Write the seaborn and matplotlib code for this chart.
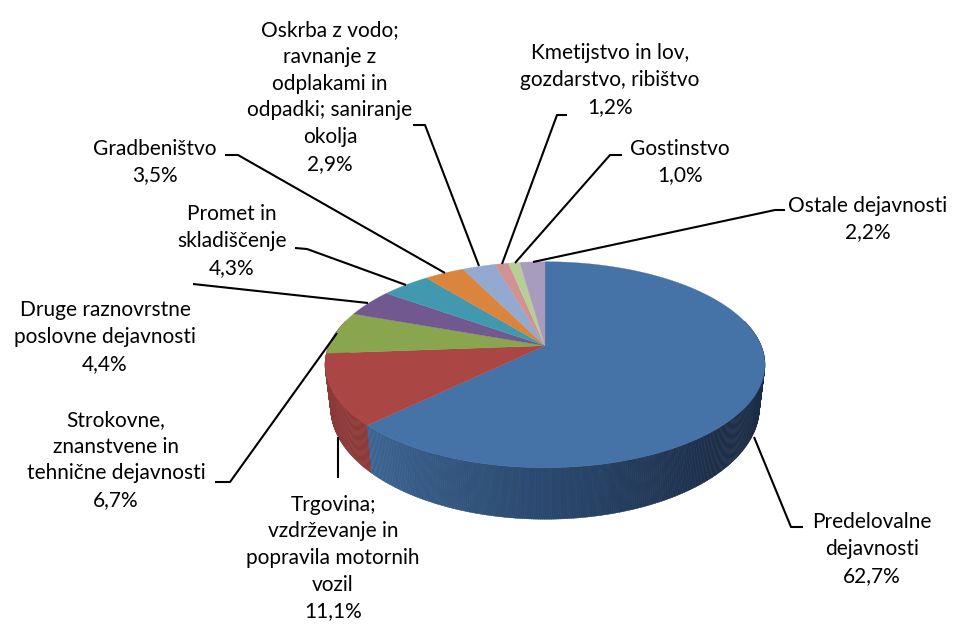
import numpy as np
import pandas as pd
import seaborn as sns
import matplotlib.pyplot as plt

labels = ["Predelovalne\ndejavnosti", "Trgovina;\nvzdrževanje in\npopravila motornih\nvozil",
          "Strokovne,\nznanstvene in\ntehnične dejavnosti", "Druge raznovrstne\nposlovne dejavnosti",
          "Promet in\nskladiščenje", "Gradbeništvo",
          "Oskrba z vodo;\nravnanje z\nodplakami in\nodpadki; saniranje\nokolja",
          "Kmetijstvo in lov,\ngozdarstvo, ribištvo", "Gostinstvo", "Ostale dejavnosti"]
shares = [62.7, 11.1, 6.7, 4.4, 4.3, 3.5, 2.9, 1.2, 1.0, 2.2]
colors = ["#4572A7", "#AA4643", "#89A54E", "#71588F", "#4198AF",
          "#DB843D", "#93A9CF", "#D19392", "#B9CD96", "#A99BBD"]

# label centres in pixels
label_x = [872, 333, 116, 105, 232, 155, 330, 610, 680, 868]
label_y = [549, 558, 460, 337, 241, 162, 97, 80, 162, 219]

# leader lines in pixels
leaders = [
    [(754, 437), (791, 527), (803, 527)],
    [(338, 437), (338, 478)],
    [(337, 333), (230, 482), (215, 482)],
    [(368, 303), (193, 284)],
    [(406, 285), (307, 249), (295, 248)],
    [(445, 273), (238, 155), (225, 155)],
    [(479, 266), (425, 125), (413, 125)],
    [(502, 264), (557, 115), (567, 115)],
    [(515, 263), (610, 155), (622, 155)],
    [(533, 262), (775, 210), (785, 210)],
]

# pie apex and perspective of the top face
cx, cy = 545, 345.7
A, B, K = 216.2, 99.5, 0.1845


def top_rim(theta):
    # theta is clockwise from 12 o'clock, degrees
    u = np.sin(np.radians(theta))
    v = np.cos(np.radians(theta))
    w = 1 + K * v
    return A * u / w, -B * v / w


def low_rim(theta):
    x, y = top_rim(theta)
    return 0.975 * x, 40.9 + 1.087 * y


df = pd.DataFrame({"label": labels, "share": shares, "color": colors})
df["end"] = df["share"].cumsum() / df["share"].sum() * 360
df["start"] = df["end"] - df["share"] / df["share"].sum() * 360

sns.set_theme(style="white")
plt.rcParams["font.family"] = ["Lato", "DejaVu Sans"]

fig, ax = plt.subplots(figsize=(9.55, 6.26), dpi=100)
ax.set_position([0, 0, 1, 1])
ax.set_xlim(0, 955)
ax.set_ylim(626, 0)
ax.axis("off")

# side wall, back to front, shaded with the angle
blue_shades = sns.blend_palette(["#1B2C44", "#1C2E48", "#2C4A70", "#3E6694"], n_colors=64)
for th in np.arange(75, 285, 0.5):
    row = df[(df["start"] <= th % 360) & (df["end"] > th % 360)].iloc[0]
    if row["label"].startswith("Predel"):
        i = int(np.clip((th - 90) / (225.7 - 90) * 63, 0, 63))
        c = blue_shades[i]
    else:
        c = "#8C3A38"
    ts = np.array([th, th + 0.6])
    tx, ty = top_rim(ts)
    lx, ly = low_rim(ts)
    ax.fill(cx + np.r_[tx, lx[::-1]], cy + np.r_[ty, ly[::-1]], color=c, lw=0.3, zorder=2)

# top face
for _, row in df.iterrows():
    ts = np.linspace(row["start"], row["end"], 200)
    x, y = top_rim(ts)
    ax.fill(cx + np.r_[0, x], cy + np.r_[0, y], color=row["color"], lw=0.2, zorder=3)

for pts in leaders:
    xs, ys = zip(*pts)
    ax.plot(xs, ys, color="black", lw=1.5, zorder=4, solid_capstyle="butt")

for i, row in df.iterrows():
    txt = row["label"] + "\n" + f"{row['share']:.1f}%".replace(".", ",")
    ax.text(label_x[i], label_y[i], txt, ha="center", va="center", fontsize=15,
            linespacing=1.42, color="black", zorder=5)

fig.savefig("out.png", dpi=100)
